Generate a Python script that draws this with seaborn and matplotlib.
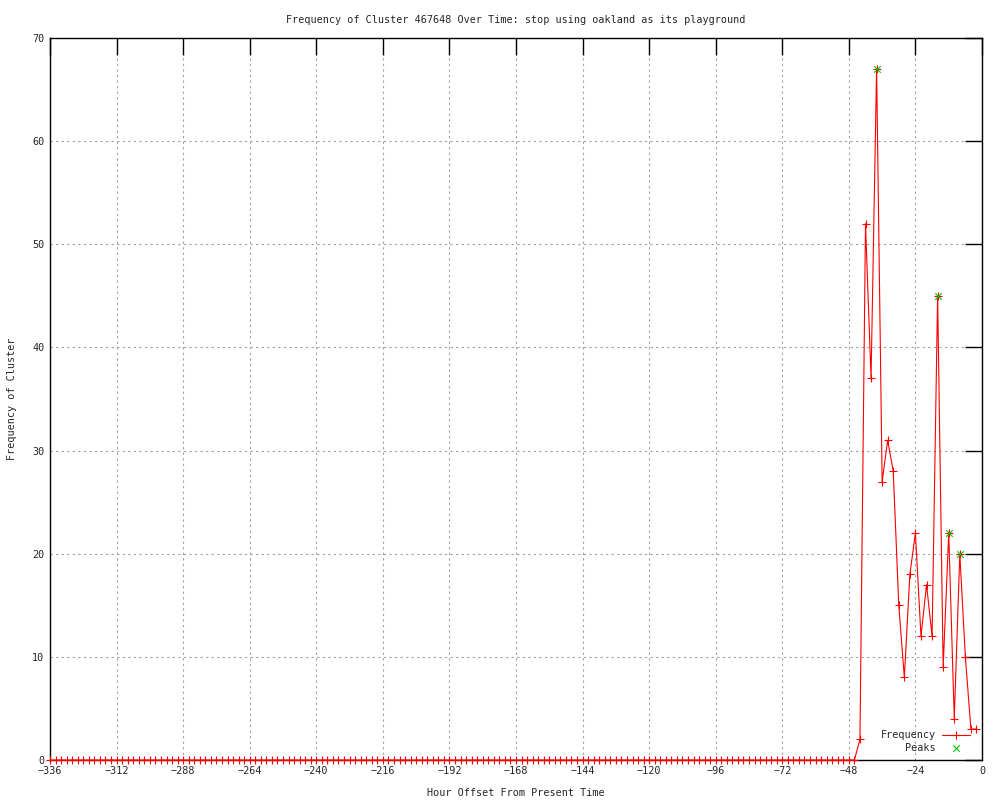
import numpy as np
import pandas as pd
import matplotlib
matplotlib.use('Agg')
import matplotlib.pyplot as plt
import seaborn as sns

# hour offsets, one point every 2 hours
hours = list(range(-336, 0, 2))
# all zero before -44
tail_hours = [-44, -42, -40, -38, -36, -34, -32, -30, -28, -26, -24, -22,
              -20, -18, -16, -14, -12, -10, -8, -6, -4, -2]
tail_freq = [2, 52, 37, 67, 27, 31, 28, 15, 8, 18, 22, 12,
             17, 12, 45, 9, 22, 4, 20, 10, 3, 3]

peak_hours = [-38, -16, -12, -8]
peak_freq = [67, 45, 22, 20]

title = "Frequency of Cluster 467648 Over Time: stop using oakland as its playground"

freq = [0] * (len(hours) - len(tail_hours)) + tail_freq
df = pd.DataFrame({'hour': hours, 'freq': freq})
df_peaks = pd.DataFrame({'hour': peak_hours, 'freq': peak_freq})

sns.set_style('white')
plt.rcParams['font.family'] = ['DejaVu Sans Mono']
plt.rcParams['font.size'] = 7.3

fig = plt.figure(figsize=(10, 8), dpi=100)
ax = fig.add_axes([0.05, 0.05, 0.932, 0.9025])

sns.lineplot(data=df, x='hour', y='freq', ax=ax, color='red', lw=0.8,
             marker='+', markersize=5.5, mew=0.8, mec='red', label='Frequency',
             clip_on=False, zorder=4)
sns.scatterplot(data=df_peaks, x='hour', y='freq', ax=ax, color='#00c000',
                marker='x', s=22, linewidth=0.8, label='Peaks', zorder=5)

ax.set_xlim(-336, 0)
ax.set_ylim(0, 70)
ax.set_xticks(np.arange(-336, 1, 24))
ax.set_yticks(np.arange(0, 71, 10))
ax.grid(True, color='#a0a0a0', linestyle=(0, (2, 3)), linewidth=0.8)
ax.tick_params(direction='in', length=12, width=1, top=True, right=True,
               color='black', labelsize=7.3, pad=4)
for s in ax.spines.values():
    s.set_color('black')
    s.set_linewidth(1)
    s.set_zorder(3)

ax.set_title(title, fontsize=7.3, pad=11)
ax.set_xlabel('Hour Offset From Present Time', fontsize=7.3, labelpad=9)
ax.set_ylabel('Frequency of Cluster', fontsize=7.3, labelpad=11)

leg = ax.legend(loc='lower right', frameon=False, markerfirst=False,
                fontsize=7.3, handlelength=2.8, borderaxespad=0.4,
                labelspacing=0.25, borderpad=0.3, handletextpad=0.6,
                bbox_to_anchor=(0.995, 0.0))
for t in leg.get_texts():
    t.set_ha('right')

fig.savefig('out.png', dpi=100)
